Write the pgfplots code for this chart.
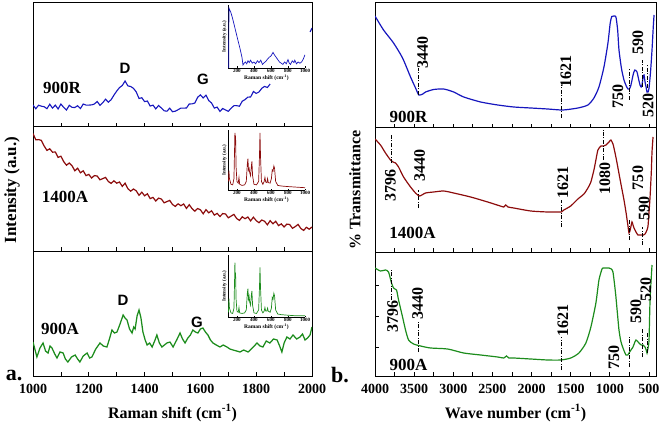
\documentclass[border=0pt]{standalone}
\usepackage{fontspec}
\setmainfont{Liberation Serif}
\newfontfamily\arialf{Liberation Sans}
\usepackage{pgfplots}
\pgfplotsset{compat=1.18}

\definecolor{rblue}{RGB}{22,22,190}
\definecolor{rred}{RGB}{140,12,12}
\definecolor{rgreen}{RGB}{28,140,28}

\newcommand{\fs}[1]{\fontsize{#1}{#1}\selectfont\bfseries}

\tikzset{ddash/.style={black, line width=0.7pt, dash pattern=on 4pt off 1.5pt on 1pt off 1.5pt}}

\pgfplotsset{
  panel/.style={
    scale only axis, anchor=south west,
    axis line style={line width=1pt},
    tick style={black, line width=0.8pt},
    tick align=inside, tick pos=left,
    major tick length=4pt, minor tick length=4pt,
    ytick=\empty,
    ymin=0, ymax=124,
    /pgf/number format/1000 sep={},
    /pgf/number format/assume math mode=true,
    ticklabel style={font=\fs{14}},
    xticklabel shift=5pt,
    xlabel style={font=\fs{16}, at={(axis description cs:0.5,0)}, anchor=center, yshift=-37pt},
  },
  raman/.style={panel, width=279pt, height=124pt, xmin=1000, xmax=2000,
    xtick={1000,1200,...,2000}, minor xtick={1100,1300,...,1900}},
  ftir/.style={panel, width=281pt, height=124pt, x dir=reverse, xmin=410, xmax=4000,
    xtick={500,1000,...,4000}, minor xtick={750,1250,...,3750}},
  inset/.style={
    scale only axis, anchor=south west, width=77pt,
    axis lines*=left, axis line style={line width=0.5pt},
    tick style={black, line width=0.4pt}, tick align=inside,
    major tick length=1.5pt,
    xmin=95, xmax=1000, ymin=0, ymax=1.05,
    xtick={200,400,...,1000}, ytick=\empty,
    /pgf/number format/1000 sep={},
    /pgf/number format/assume math mode=true,
    ticklabel style={font=\fs{5}, inner sep=1pt},
    xlabel={Raman shift (cm\textsuperscript{-1})},
    ylabel={Intensity (a.u.)},
    xlabel style={font=\fs{5.5}, inner sep=1pt},
    ylabel style={font=\fs{5}, inner sep=1pt},
  },
}

\begin{document}
\begin{tikzpicture}
\path[use as bounding box] (0,0) rectangle (660pt,426pt);

% ---------------- left: Raman ----------------
\begin{axis}[raman, at={(33pt,299pt)}, xticklabels={}]
\addplot[rblue, line width=1.1pt] coordinates {
(1000,22) (1010,18.2) (1020,21.8) (1030,20.8) (1040,20.3) (1050,18.3) (1060,22.8) (1070,18.9)
(1080,21.9) (1090,18) (1100,23) (1110,19.6) (1120,17) (1130,21.7) (1140,19.6) (1150,19.5)
(1160,21.3) (1170,18.4) (1180,23) (1190,21.9) (1200,21.9) (1210,22.1) (1220,23) (1230,25.5)
(1240,21.7) (1250,24.3) (1260,27.8) (1270,24.8) (1280,27.3) (1290,31.8) (1300,35.9) (1310,39.4)
(1320,41.5) (1330,46) (1340,41.1) (1350,40.5) (1360,38.7) (1370,35.1) (1380,28.5) (1390,29.3)
(1400,25.4) (1410,26) (1420,20.9) (1430,21.9) (1440,18.1) (1450,21.5) (1460,19) (1470,16.2)
(1480,15.8) (1490,18.8) (1500,15.3) (1510,15.8) (1520,17.3) (1530,18.9) (1540,18.9) (1550,19)
(1560,23) (1570,23.1) (1580,24) (1590,29.7) (1600,32.1) (1610,29) (1620,31.8) (1630,26.4)
(1640,24) (1650,18.9) (1660,19.9) (1670,15.6) (1680,18.5) (1690,17) (1700,15.7) (1710,18.8)
(1720,21.3) (1730,21.3) (1740,20.8) (1750,25.8) (1760,27.4) (1770,29.9) (1780,30) (1790,35.5)
(1800,33.6) (1810,35) (1820,38.7) (1830,40.6) (1840,39.5) (1850,43)};
\addplot[rblue, line width=1.1pt] coordinates {(1993,95) (2000,99)};
\node[font=\fs{17}] at (axis cs:1104,39) {900R};
\node[font=\arialf\fs{15}] at (axis cs:1330,59) {D};
\node[font=\arialf\fs{15}] at (axis cs:1609,48) {G};
\end{axis}

\begin{axis}[raman, at={(33pt,175pt)}, xticklabels={}]
\addplot[rred, line width=1.2pt] coordinates {
(1000,117.5) (1010,111.2) (1020,111.4) (1030,110.6) (1040,105) (1050,100.6) (1060,102.2) (1070,98.8)
(1080,99) (1090,93.6) (1100,94.8) (1110,89.4) (1120,85.8) (1130,88) (1140,85.2) (1150,80.2)
(1160,82.8) (1170,78.2) (1180,80.2) (1190,75.4) (1200,76.6) (1210,73) (1220,75.4) (1230,75)
(1240,71.2) (1250,72.4) (1260,73.6) (1270,69.5) (1280,67.6) (1290,70.2) (1300,67.8) (1310,69)
(1320,64.6) (1330,67.8) (1340,62.4) (1350,59.8) (1360,62) (1370,60.2) (1380,55.7) (1390,58.8)
(1400,55.2) (1410,57.2) (1420,52.4) (1430,53.6) (1440,50) (1450,52.9) (1460,52) (1470,48.2)
(1480,49.4) (1490,50.6) (1500,46.5) (1510,44.6) (1520,47.2) (1530,45.3) (1540,47) (1550,42.6)
(1560,46.3) (1570,42.4) (1580,39.8) (1590,42.5) (1600,41.2) (1610,37.2) (1620,41.3) (1630,38.2)
(1640,40.2) (1650,35.9) (1660,37.6) (1670,34.5) (1680,37.4) (1690,37) (1700,33.2) (1710,34.9)
(1720,36.6) (1730,32.5) (1740,30.6) (1750,34.2) (1760,32.3) (1770,34) (1780,30.1) (1790,33.8)
(1800,30.4) (1810,28.3) (1820,31) (1830,29.7) (1840,26.2) (1850,30.3) (1860,27.2) (1870,29.7)
(1880,25.4) (1890,27.1) (1900,24) (1910,26.9) (1920,26.5) (1930,22.7) (1940,24.4) (1950,26.6)
(1960,22.5) (1970,20.6) (1980,23.7) (1990,21.8) (2000,24)};
\node[font=\fs{17}] at (axis cs:1115,54) {1400A};
\end{axis}

\begin{axis}[raman, at={(33pt,50pt)}, height=125pt, ymax=125,
  xlabel={Raman shift (cm\textsuperscript{-1})}]
\addplot[rgreen, line width=1.25pt] coordinates {
(1000,34) (1014,19) (1025,28) (1036,33) (1045,25) (1054,23) (1061,30) (1068,28)
(1078,22) (1086,18) (1097,24) (1108,23) (1116,17) (1125,14) (1138,19) (1151,21)
(1160,17) (1168,14) (1180,20) (1194,23) (1203,18) (1211,19) (1225,27) (1240,33)
(1252,30) (1265,29) (1275,38) (1283,46) (1292,43) (1301,44) (1312,52) (1323,61)
(1330,58) (1337,56) (1346,47) (1355,43) (1361,49) (1366,47) (1373,60) (1380,66)
(1387,58) (1394,44) (1402,36) (1409,31) (1418,33) (1427,29) (1436,35) (1444,41)
(1453,33) (1462,29) (1471,31) (1480,33) (1491,34) (1502,29) (1515,36) (1527,43)
(1536,37) (1545,33) (1555,38) (1564,41) (1573,46) (1582,44) (1591,43) (1600,47)
(1609,48) (1618,44) (1627,41) (1636,36) (1645,33) (1657,31) (1670,29) (1682,31)
(1695,29) (1706,27) (1717,26) (1730,25) (1742,24) (1755,26) (1771,24) (1786,28)
(1803,33) (1814,30) (1824,29) (1836,35) (1849,33) (1862,37) (1875,36) (1884,30)
(1892,24) (1900,33) (1910,39) (1921,37) (1932,41) (1945,37) (1957,39) (1966,42)
(1975,36) (1984,38) (1993,41) (2000,49)};
\node[font=\fs{17}] at (axis cs:1097,47) {900A};
\node[font=\arialf\fs{15}] at (axis cs:1323,76) {D};
\node[font=\arialf\fs{15}] at (axis cs:1588,54) {G};
\end{axis}

% ---------------- insets ----------------
\begin{axis}[inset, at={(228pt,358pt)}, height=63pt]
\addplot[rblue, line width=0.7pt] coordinates {
(104,0) (106,1.0) (130,0.92) (150,0.82) (176,0.67) (200,0.53) (212,0.46) (235,0.33)
(259,0.18) (271,0.05) (285,0.08) (300,0.1) (315,0.07) (330,0.12) (345,0.09) (360,0.13)
(380,0.08) (400,0.1) (420,0.07) (440,0.12) (460,0.09) (480,0.13) (500,0.06) (520,0.09)
(540,0.11) (560,0.15) (580,0.18) (600,0.2) (624,0.26) (640,0.22) (660,0.18) (680,0.14)
(700,0.1) (720,0.08) (740,0.06) (760,0.1) (780,0.07) (800,0.14) (815,0.08) (830,0.06)
(850,0.12) (870,0.09) (880,0.13) (900,0.07) (920,0.1) (940,0.08) (960,0.1) (980,0.15)
(1000,0.22)};
\end{axis}

\begin{axis}[inset, at={(228pt,236pt)}, height=60pt]
\addplot[rred, line width=0.7pt] coordinates {
(100,0.15) (106,0.34) (112,0.2) (130,0.1) (150,0.09) (165,0.2) (172,0.7) (176,1.0)
(180,0.8) (184,0.95) (190,0.4) (200,0.15) (215,0.12) (224,0.22) (232,0.1) (260,0.08)
(290,0.09) (310,0.15) (322,0.45) (329,0.55) (336,0.35) (343,0.38) (350,0.3) (360,0.25)
(370,0.42) (376,0.5) (384,0.25) (400,0.1) (430,0.09) (455,0.15) (465,0.6) (471,1.0)
(477,0.6) (488,0.15) (505,0.1) (520,0.15) (529,0.22) (538,0.14) (552,0.13) (560,0.2)
(568,0.13) (590,0.12) (605,0.2) (615,0.35) (624,0.33) (634,0.42) (642,0.38) (655,0.15)
(680,0.08) (720,0.07) (800,0.06) (900,0.05) (1000,0.04)};
\end{axis}

\begin{axis}[inset, at={(228pt,109pt)}, height=62pt]
\addplot[rgreen, line width=0.7pt] coordinates {
(100,0.08) (106,0.31) (112,0.15) (130,0.07) (150,0.06) (165,0.15) (172,0.6) (176,0.92)
(180,0.65) (184,0.75) (190,0.3) (200,0.1) (215,0.08) (224,0.16) (232,0.07) (260,0.06)
(290,0.07) (310,0.12) (322,0.4) (329,0.48) (336,0.3) (343,0.35) (350,0.25) (360,0.2)
(370,0.38) (376,0.44) (384,0.2) (400,0.07) (430,0.06) (455,0.12) (465,0.5) (471,0.84)
(477,0.5) (488,0.12) (505,0.07) (520,0.1) (529,0.16) (538,0.1) (552,0.1) (560,0.15)
(568,0.1) (590,0.08) (605,0.15) (615,0.33) (624,0.3) (634,0.4) (642,0.36) (655,0.12)
(680,0.05) (720,0.04) (800,0.03) (900,0.02) (1000,0.02)};
\end{axis}

% ---------------- right: FTIR ----------------
\begin{axis}[ftir, at={(375pt,298pt)}, height=125pt, ymin=-1, xticklabels={}]
\addplot[rblue, line width=1.2pt, smooth, tension=0.4] coordinates {
(4000,111) (3891,97) (3763,84) (3648,69) (3546,50) (3482,39) (3440,32) (3390,33)
(3354,35) (3251,37.5) (3123,38) (2995,35) (2867,30) (2650,25) (2432,22) (2227,20)
(2010,19) (1792,18) (1600,17) (1408,19) (1280,22) (1203,29) (1139,40) (1075,60)
(1024,84) (995,104) (975,110.5) (947,111) (922,110) (900,97) (883,77) (850,58)
(819,47) (790,41) (768,38) (750,38) (730,42) (700,53) (680,57) (653,55) (630,47)
(614,42) (600,40) (589,42) (575,50) (563,52) (550,45) (537,40) (525,35) (512,35)
(499,39) (480,55) (461,77) (445,100) (435,112)};
\draw[ddash] (axis cs:3440,32) -- (axis cs:3440,59);
\node[rotate=90, font=\fs{16}] at (axis cs:3392,74) {3440};
\draw[ddash] (axis cs:1621,9) -- (axis cs:1621,42);
\node[rotate=90, font=\fs{16}] at (axis cs:1562,55) {1621};
\draw[ddash] (axis cs:750,27) -- (axis cs:750,59);
\node[rotate=90, font=\fs{16}] at (axis cs:896,30) {750};
\draw[ddash] (axis cs:590,40) -- (axis cs:590,67);
\node[rotate=90, font=\fs{16}] at (axis cs:640,84) {590};
\draw[ddash] (axis cs:520,39) -- (axis cs:520,62);
\node[rotate=90, font=\fs{16}] at (axis cs:512,21) {520};
\node[font=\fs{17}] at (axis cs:3571,10) {900R};
\end{axis}

\begin{axis}[ftir, at={(375pt,174pt)}, xticklabels={}]
\addplot[rred, line width=1.2pt, smooth, tension=0.4] coordinates {
(4000,113) (3930,107) (3866,99) (3802,92) (3770,90) (3738,89) (3699,85) (3635,75)
(3546,65) (3482,59) (3430,56) (3354,59) (3251,60) (3123,61) (2995,59) (2778,55)
(2560,50) (2400,46) (2355,45) (2330,47) (2300,45) (2227,44) (2010,41) (1792,40)
(1651,40) (1620,40) (1587,42) (1500,46) (1408,53) (1331,58) (1280,64) (1242,70)
(1203,82) (1178,92) (1152,102) (1113,106) (1080,106) (1050,107) (1010,110) (986,112)
(960,108) (947,104) (920,94) (896,84) (858,68) (819,52) (790,38) (768,26) (755,19)
(740,22) (717,30) (704,27) (691,24) (666,20) (640,17) (602,17) (570,17) (550,18)
(525,22) (512,26) (499,40) (486,55) (470,80) (461,100) (448,115)};
\draw[ddash] (axis cs:3796,89) -- (axis cs:3796,117);
\node[rotate=90, font=\fs{16}] at (axis cs:3802,67) {3796};
\draw[ddash] (axis cs:3440,44) -- (axis cs:3440,62);
\node[rotate=90, font=\fs{16}] at (axis cs:3430,87) {3440};
\draw[ddash] (axis cs:1621,25) -- (axis cs:1621,52);
\node[rotate=90, font=\fs{16}] at (axis cs:1600,70) {1621};
\draw[ddash] (axis cs:1080,92) -- (axis cs:1080,122);
\node[rotate=90, font=\fs{16}] at (axis cs:1062,74) {1080};
\draw[ddash] (axis cs:750,12) -- (axis cs:750,32);
\node[rotate=90, font=\fs{16}] at (axis cs:640,74) {750};
\draw[ddash] (axis cs:590,7) -- (axis cs:590,25);
\node[rotate=90, font=\fs{16}] at (axis cs:563,44) {590};
\node[font=\fs{17}] at (axis cs:3520,19) {1400A};
\end{axis}

\begin{axis}[ftir, at={(375pt,50pt)}, ytick={29,60,91}, yticklabels={},
  xlabel={Wave number (cm\textsuperscript{-1})}]
\addplot[rgreen, line width=1.2pt, smooth, tension=0.4] coordinates {
(4000,108) (3930,105) (3866,106) (3827,104) (3789,93) (3763,88) (3725,86) (3699,76)
(3648,59) (3610,46) (3571,36) (3507,32) (3418,30) (3290,28) (3072,27) (2867,23)
(2650,21) (2432,19) (2355,18) (2320,20) (2290,18) (2227,18) (2010,17) (1792,16)
(1627,16) (1499,18) (1395,23) (1306,33) (1242,49) (1178,73) (1139,96) (1100,107)
(1088,108) (1011,108) (980,107) (960,104) (940,92) (922,79) (900,60) (883,46)
(860,35) (832,28) (794,21) (770,21) (755,23) (730,26) (704,29) (680,34) (666,36)
(650,35) (627,33) (600,31) (576,31) (550,29) (535,26) (525,23) (512,28) (499,36)
(486,76) (461,111)};
\draw[ddash] (axis cs:3796,76) -- (axis cs:3796,108);
\node[rotate=90, font=\fs{16}] at (axis cs:3776,60) {3796};
\draw[ddash] (axis cs:3440,24) -- (axis cs:3440,54);
\node[rotate=90, font=\fs{16}] at (axis cs:3456,73) {3440};
\draw[ddash] (axis cs:1621,6) -- (axis cs:1621,39);
\node[rotate=90, font=\fs{16}] at (axis cs:1600,56) {1621};
\draw[ddash] (axis cs:750,9) -- (axis cs:750,39);
\node[rotate=90, font=\fs{16}] at (axis cs:947,19) {750};
\draw[ddash] (axis cs:590,19) -- (axis cs:590,48);
\node[rotate=90, font=\fs{16}] at (axis cs:666,65) {590};
\draw[ddash] (axis cs:520,23) -- (axis cs:520,44);
\node[rotate=90, font=\fs{16}] at (axis cs:538,87) {520};
\node[font=\fs{17}] at (axis cs:3571,11) {900A};
\end{axis}

% ---------------- outer labels ----------------
\node[rotate=90, font=\fs{17}] at (12pt,236pt) {Intensity (a.u.)};
\node[rotate=90, font=\fs{16}] at (355pt,236pt) {\% Transmittance};
\node[font=\fs{22}] at (14pt,51pt) {a.};
\node[font=\fs{22}] at (340pt,51pt) {b.};
\end{tikzpicture}
\end{document}
